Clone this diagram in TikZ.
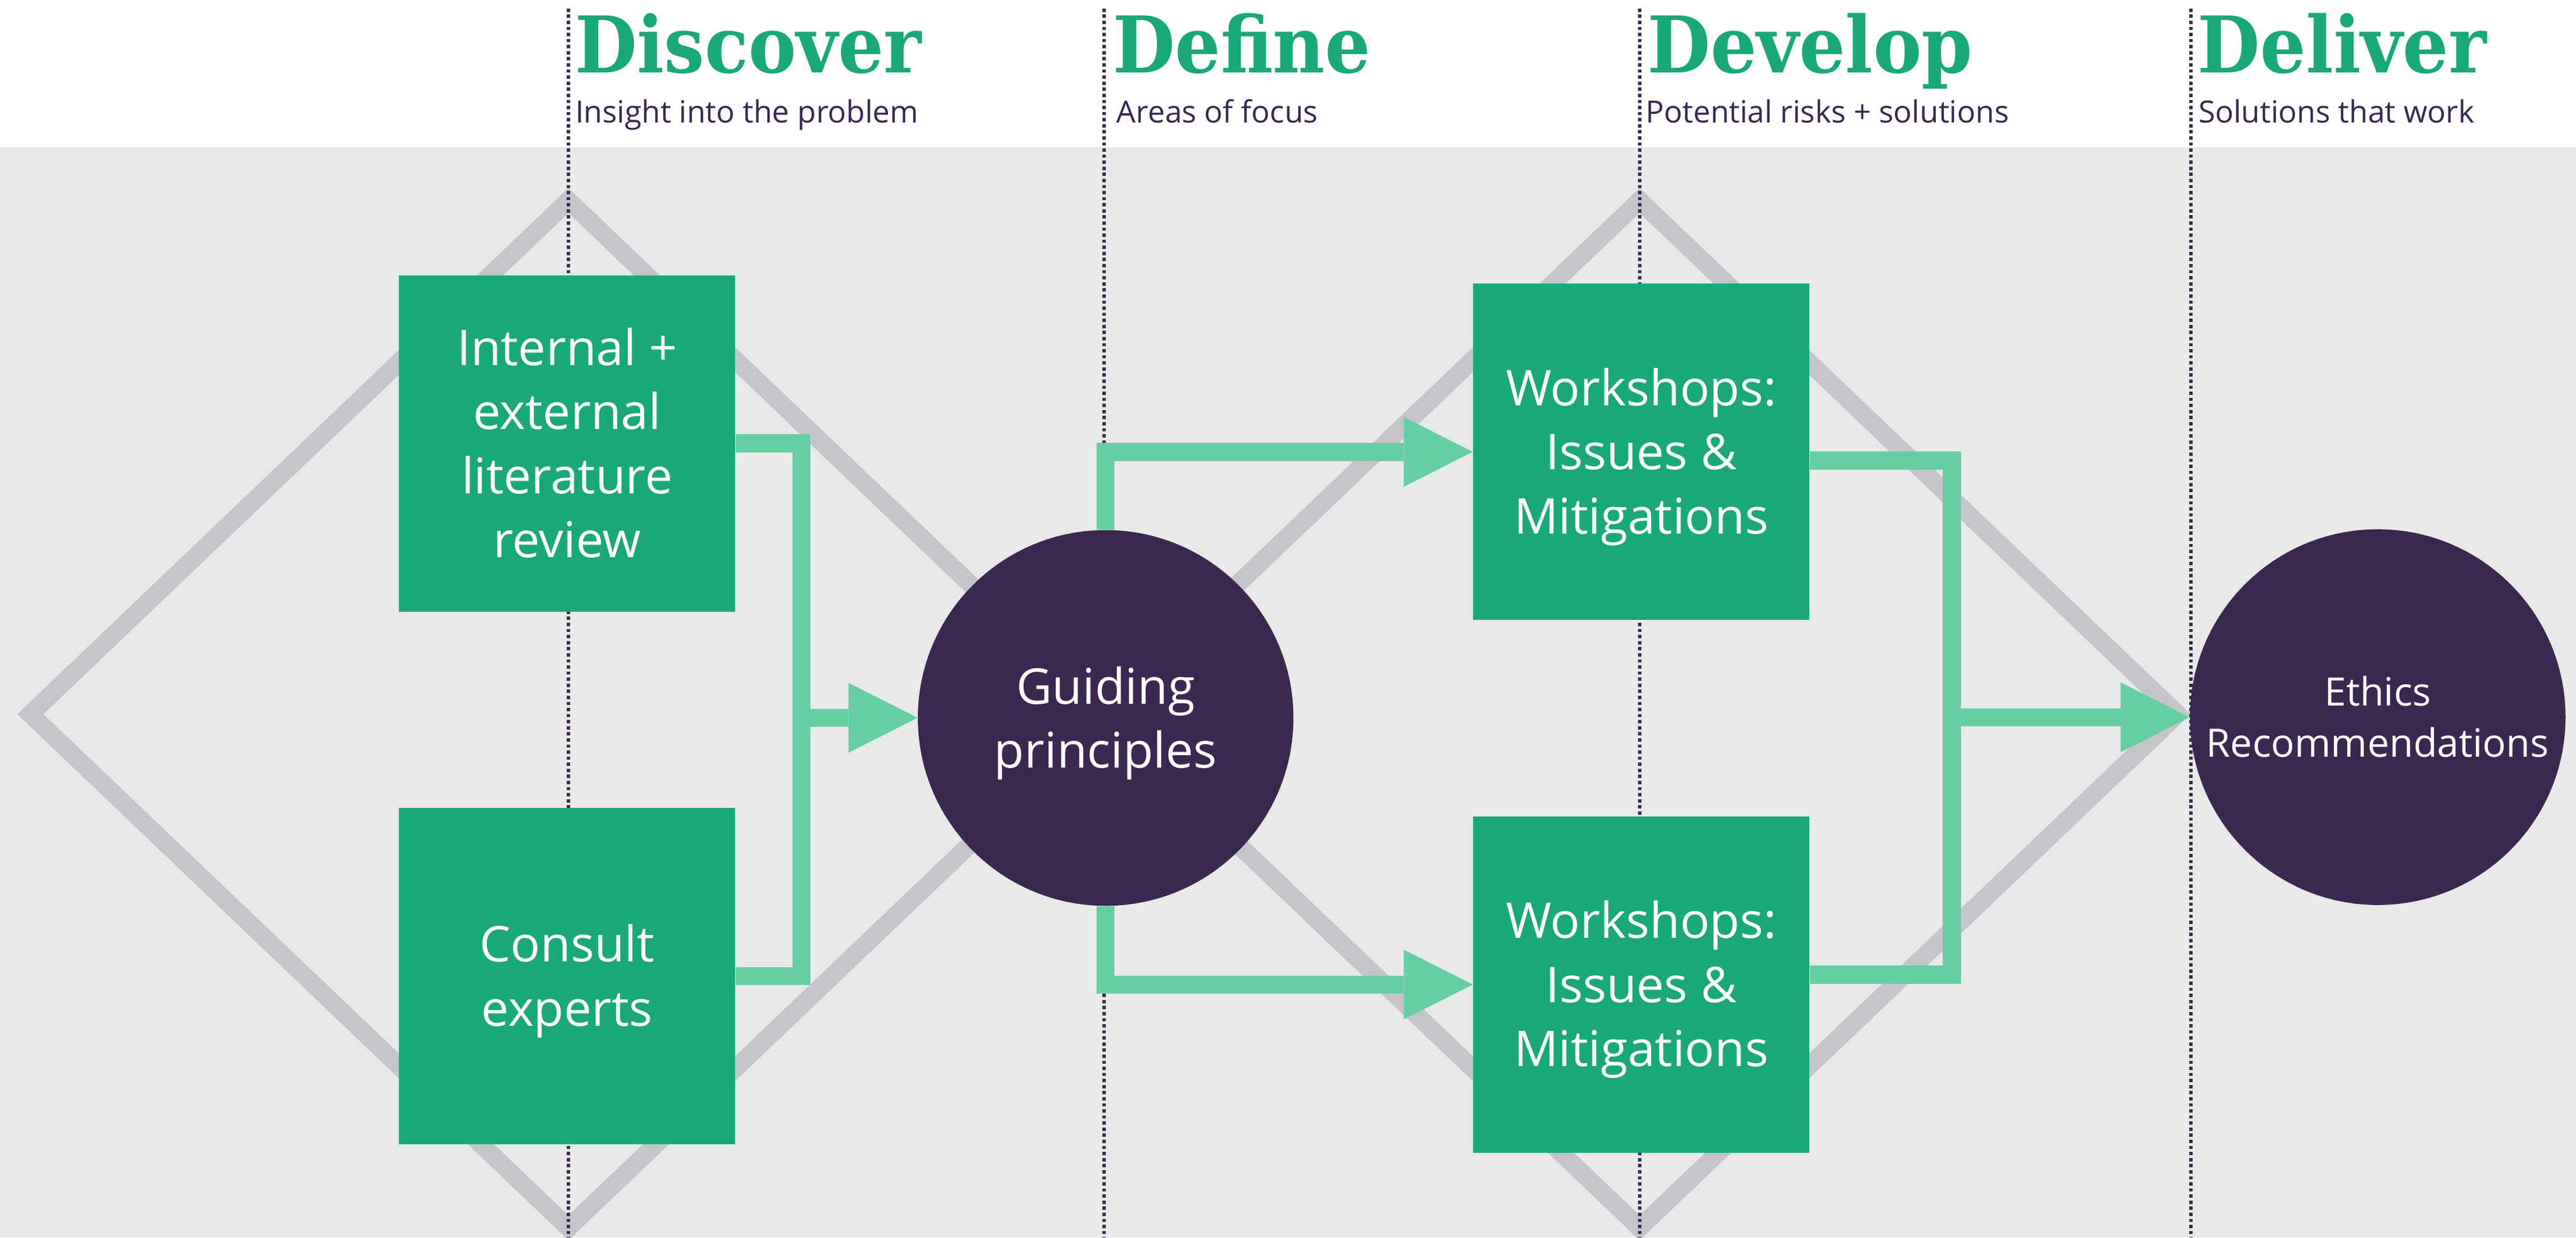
\documentclass[tikz,border=0pt]{standalone}
\usepackage{fontspec}
\usepackage{graphicx}
\usetikzlibrary{arrows.meta}
\setmainfont{Open Sans}
\newfontfamily\sansfont{Open Sans}
\newfontfamily\headfont{DejaVu Serif}
\definecolor{boxgreen}{HTML}{1AA87A}
\definecolor{linkgreen}{HTML}{67CEA4}
\definecolor{deeppurple}{HTML}{3B2850}
\definecolor{bggray}{HTML}{E9E9E9}
\definecolor{diagray}{HTML}{C6C4CB}
\tikzset{
  greenbox/.style={rectangle, fill=boxgreen, minimum width=204.7pt, minimum height=204.7pt,
    inner sep=0pt, text=white, align=center, font=\sansfont\fontsize{30}{39}\selectfont,
    text depth=0pt},
  purplecircle/.style={circle, fill=deeppurple, minimum size=228.6pt, inner sep=0pt,
    text=white, align=center, text depth=0pt},
  conn/.style={draw=linkgreen, line width=11pt, line join=miter, line cap=butt},
  arrowconn/.style={conn, -{Triangle[length=42pt,width=42.5pt,line width=0pt]}},
  dotline/.style={draw=deeppurple, line width=2.1pt, dash pattern=on 2pt off 1.7pt},
  diamondline/.style={draw=diagray, line width=11pt, line join=miter},
  headtext/.style={anchor=base west, inner sep=0pt, text=boxgreen},
  subtext/.style={anchor=base west, inner sep=0pt, text=deeppurple,
    font=\sansfont\fontsize{18.6}{22}\selectfont}
}
\begin{document}
\begin{tikzpicture}[x=1pt,y=-1pt]
\useasboundingbox (0,0) rectangle (1568,753);
\fill[white] (0,0) rectangle (1568,753);
\fill[bggray] (0,89.6) rectangle (1568,753);
% diamonds
\draw[diamondline] (18.5,434.5) -- (346,122) -- (673.5,434.5) -- (346,747) -- cycle;
\draw[diamondline] (670.5,434.5) -- (998,122) -- (1325.5,434.5) -- (998,747) -- cycle;
% dotted phase lines
\draw[dotline] (346,5.2) -- (346,753);
\draw[dotline] (672,5.2) -- (672,753);
\draw[dotline] (998,5.2) -- (998,753);
\draw[dotline] (1333.5,5.2) -- (1333.5,753);
% headings
\node[headtext] (hdiscover) at (349.7,44.1) {\resizebox{211pt}{36.2pt}{\headfont\bfseries Discover}};
\node[headtext] (hdefine) at (677.2,44.1) {\resizebox{157pt}{36.2pt}{\headfont\bfseries Define}};
\node[headtext] (hdevelop) at (1002.5,44.1) {\resizebox{198pt}{36.2pt}{\headfont\bfseries Develop}};
\node[headtext] (hdeliver) at (1337.5,44.1) {\resizebox{176pt}{36.2pt}{\headfont\bfseries Deliver}};
\node[subtext] (sdiscover) at (350,74.6) {Insight into the problem};
\node[subtext] (sdefine) at (679.5,74.6) {Areas of focus};
\node[subtext] (sdevelop) at (1001.5,74.6) {Potential risks + solutions};
\node[subtext] (sdeliver) at (1338,74.6) {Solutions that work};
% boxes and circles
\node[greenbox, text height=138.8pt] (lit) at (345.2,269.8) {Internal +\\external\\literature\\review};
\node[greenbox, text height=60.8pt] (consult) at (345.2,593.8) {Consult\\experts};
\node[greenbox, text height=99.8pt] (ws1) at (999,274.9) {Workshops:\\Issues \&\\Mitigations};
\node[greenbox, text height=99.8pt] (ws2) at (999,599) {Workshops:\\Issues \&\\Mitigations};
\node[purplecircle, font=\sansfont\fontsize{30}{39}\selectfont, text height=60.8pt] (guide) at (673,436.8) {Guiding\\principles};
\node[purplecircle, font=\sansfont\fontsize{23.8}{31.2}\selectfont, text height=48.6pt] (ethics) at (1447.3,436.3) {Ethics\\Recommendations};
% connectors
\coordinate (jl) at (487.8,436.7);
\draw[conn] (lit.east) -| (jl) |- (consult.east);
\draw[arrowconn] (jl) -- (jl -| guide.west);
\draw[arrowconn] (guide.north) |- (ws1.west);
\draw[arrowconn] (guide.south) |- (ws2.west);
\coordinate (jr) at (1188,436.4);
\draw[conn] ([yshift=-5.3pt]ws1.east) -| (jr) |- ([yshift=6pt]ws2.east);
\draw[arrowconn] (jr) -- (jr -| ethics.west);
\end{tikzpicture}
\end{document}
